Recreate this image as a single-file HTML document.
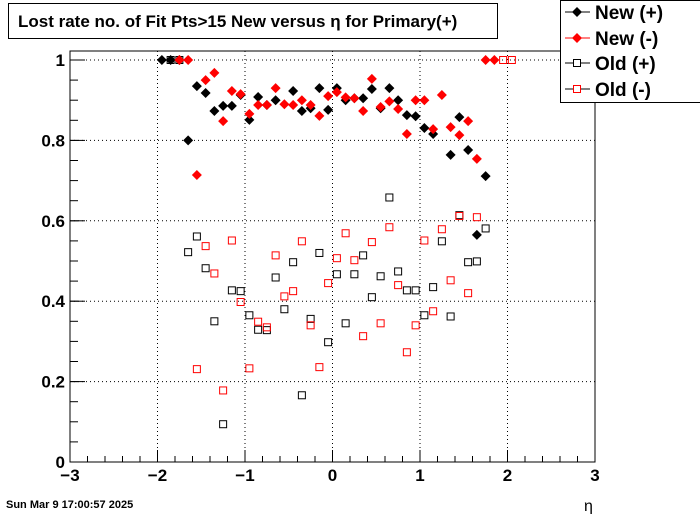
<!DOCTYPE html>
<html><head><meta charset="utf-8"><style>
body{margin:0;background:#fff;width:700px;height:514px;overflow:hidden}
svg{display:block;font-family:"Liberation Sans",sans-serif}
</style></head><body>
<svg id="c" width="700" height="514">
<rect x="0" y="0" width="700" height="514" fill="#fff"/>
<g id="grid"></g>
<rect x="70" y="51" width="525" height="411" fill="none" stroke="#000" stroke-width="1"/>
<g id="axes"></g>
<g id="marks"></g>
<g>
<rect x="8.5" y="3.5" width="489" height="35" fill="#fff" stroke="#000"/>
<text x="18" y="27" font-size="17" font-weight="bold">Lost rate no. of Fit Pts&gt;15 New versus η for Primary(+)</text>
</g>
<g>
<rect x="560.5" y="0.5" width="140" height="102" fill="#fff" stroke="#000"/>
<g><line x1="565" y1="12" x2="590" y2="12" stroke="#000"/><path d="M577 7 L582 12 L577 17 L572 12Z" fill="#000"/><text x="595" y="19" font-size="19" font-weight="bold">New (+)</text></g>
<g><line x1="565" y1="38" x2="590" y2="38" stroke="#f00"/><path d="M577 33 L582 38 L577 43 L572 38Z" fill="#f00"/><text x="595" y="45" font-size="19" font-weight="bold">New (-)</text></g>
<g><line x1="565" y1="63" x2="590" y2="63" stroke="#000"/><rect x="573.5" y="59.5" width="7" height="7" fill="#fff" stroke="#000"/><text x="595" y="70" font-size="19" font-weight="bold">Old (+)</text></g>
<g><line x1="565" y1="89" x2="590" y2="89" stroke="#000"/><rect x="573.5" y="85.5" width="7" height="7" fill="#fff" stroke="#f00"/><text x="595" y="96" font-size="19" font-weight="bold">Old (-)</text></g>
</g>
<text x="584" y="511" font-size="16">η</text>
<text x="6" y="508" font-size="11" font-weight="bold">Sun Mar  9 17:00:57 2025</text>
</svg>
<script>
const xTicks=[-3,-2,-1,0,1,2,3];
const xTickLabels=["\u22123","\u22122","\u22121","0","1","2","3"];
const yTicks=[0,0.2,0.4,0.6,0.8,1];
const yTickLabels=["0","0.2","0.4","0.6","0.8","1"];
const newPlusEta=[-1.95,-1.85,-1.75,-1.65,-1.55,-1.45,-1.35,-1.25,-1.15,-1.05,-0.95,-0.85,-0.75,-0.65,-0.45,-0.35,-0.25,-0.15,-0.05,0.05,0.15,0.25,0.35,0.45,0.55,0.65,0.75,0.85,0.95,1.05,1.15,1.35,1.45,1.55,1.65,1.75];
const newPlusVal=[1,1,1,0.80,0.935,0.918,0.873,0.886,0.886,0.913,0.851,0.908,0.888,0.90,0.923,0.873,0.88,0.93,0.876,0.93,0.90,0.905,0.905,0.928,0.88,0.93,0.90,0.863,0.86,0.831,0.816,0.764,0.858,0.776,0.565,0.711];
const newMinusEta=[-1.75,-1.65,-1.55,-1.45,-1.35,-1.25,-1.15,-1.05,-0.95,-0.85,-0.75,-0.65,-0.55,-0.45,-0.35,-0.25,-0.15,-0.05,0.05,0.15,0.25,0.35,0.45,0.55,0.65,0.75,0.85,0.95,1.05,1.15,1.25,1.35,1.45,1.55,1.65,1.75,1.85];
const newMinusVal=[1,1,0.714,0.95,0.968,0.848,0.923,0.915,0.866,0.888,0.888,0.93,0.89,0.888,0.90,0.888,0.861,0.91,0.92,0.907,0.905,0.873,0.953,0.883,0.897,0.878,0.816,0.90,0.90,0.828,0.913,0.833,0.813,0.848,0.754,1,1];
const oldPlusEta=[-1.85,-1.75,-1.65,-1.55,-1.45,-1.35,-1.25,-1.15,-1.05,-0.95,-0.85,-0.75,-0.65,-0.55,-0.45,-0.35,-0.25,-0.15,-0.05,0.05,0.15,0.25,0.35,0.45,0.55,0.65,0.75,0.85,0.95,1.05,1.15,1.25,1.35,1.45,1.55,1.65,1.75];
const oldPlusVal=[1,1,0.522,0.561,0.482,0.35,0.094,0.427,0.425,0.365,0.329,0.328,0.459,0.38,0.497,0.166,0.356,0.52,0.298,0.467,0.345,0.467,0.514,0.41,0.462,0.658,0.474,0.427,0.427,0.365,0.435,0.549,0.362,0.614,0.497,0.499,0.581];
const oldMinusEta=[-1.55,-1.45,-1.35,-1.25,-1.15,-1.05,-0.95,-0.85,-0.75,-0.65,-0.55,-0.45,-0.35,-0.25,-0.15,-0.05,0.05,0.15,0.25,0.35,0.45,0.55,0.65,0.75,0.85,0.95,1.05,1.15,1.25,1.35,1.45,1.55,1.65,1.95,2.05];
const oldMinusVal=[0.231,0.537,0.469,0.178,0.551,0.398,0.233,0.349,0.335,0.514,0.412,0.425,0.549,0.34,0.236,0.445,0.507,0.569,0.502,0.313,0.547,0.345,0.584,0.44,0.273,0.34,0.551,0.375,0.579,0.452,0.612,0.42,0.609,1,1];

const NS="http://www.w3.org/2000/svg";
const X0=70,X1=595,Y0=462,Y1=60;
function sx(v){return X0+(v+3)/6*(X1-X0);}
function sy(v){return Y0-v*(Y0-Y1);}
function mk(tag,attrs,parent){const e=document.createElementNS(NS,tag);for(const k in attrs)e.setAttribute(k,attrs[k]);parent.appendChild(e);return e;}
const grid=document.getElementById('grid'),axes=document.getElementById('axes'),marks=document.getElementById('marks');
xTicks.forEach((t,i)=>{
  const x=sx(t);
  if(t>-3&&t<3){const g=mk('line',{x1:x,y1:51,x2:x,y2:462,stroke:'#000','stroke-dasharray':'1,3'},grid);
  
  }
  mk('line',{x1:x,y1:462,x2:x,y2:450,stroke:'#000'},axes);
  const l=mk('text',{x:x,y:481,'font-size':17,'font-weight':'bold','text-anchor':'middle'},axes);
  l.textContent=xTickLabels[i];
  
  
});
for(let v=-3;v<3;v+=0.2){const x=sx(v);mk('line',{x1:x,y1:462,x2:x,y2:456,stroke:'#000'},axes);}
yTicks.forEach((t,i)=>{
  const y=sy(t);
  if(t>0){const g=mk('line',{x1:70,y1:y,x2:595,y2:y,stroke:'#000','stroke-dasharray':'1,3'},grid);
  
  }
  mk('line',{x1:70,y1:y,x2:85,y2:y,stroke:'#000'},axes);
  const l=mk('text',{x:65,y:y+6,'font-size':17,'font-weight':'bold','text-anchor':'end'},axes);
  l.textContent=yTickLabels[i];
  
  
});
for(let v=0;v<1.01;v+=0.05){const y=sy(v);mk('line',{x1:70,y1:y,x2:78,y2:y,stroke:'#000'},axes);}
function squares(et,vals,color,name){
  et.forEach((e,i)=>{const x=sx(e),y=sy(vals[i]);
    const r=mk('rect',{x:x-3.5,y:y-3.5,width:7,height:7,fill:'none',stroke:color,'stroke-width':1},marks);
    
    });
}
function diamonds(et,vals,color,name){
  et.forEach((e,i)=>{const x=sx(e),y=sy(vals[i]);
    const p=mk('path',{d:`M${x} ${y-5}L${x+5} ${y}L${x} ${y+5}L${x-5} ${y}Z`,fill:color},marks);
    
    });
}
squares(oldPlusEta,oldPlusVal,'#000','old-plus-point');
squares(oldMinusEta,oldMinusVal,'#f00','old-minus-point');
diamonds(newPlusEta,newPlusVal,'#000','new-plus-point');
diamonds(newMinusEta,newMinusVal,'#f00','new-minus-point');
</script>
</body></html>
